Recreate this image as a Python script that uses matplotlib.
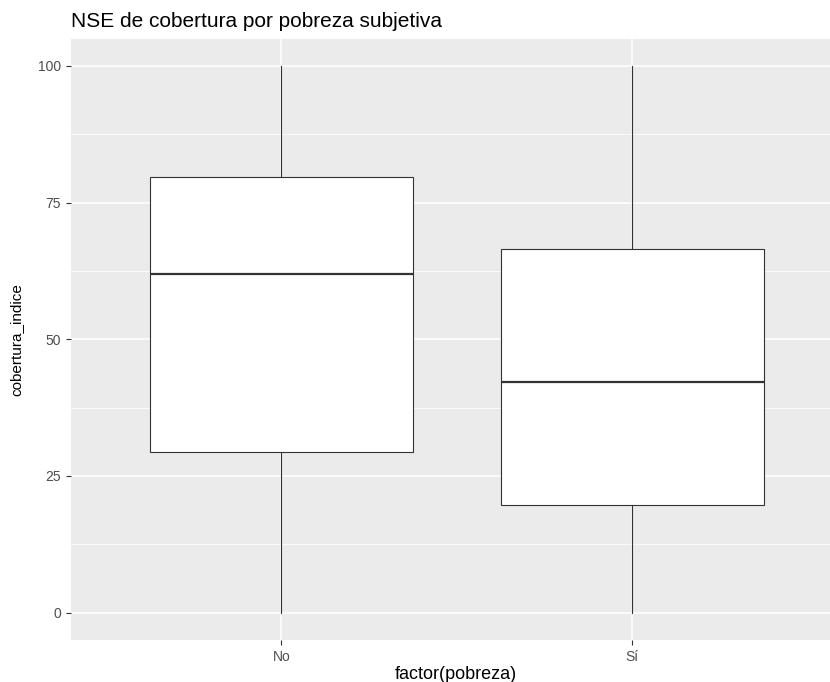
import matplotlib
matplotlib.use("Agg")
import matplotlib.pyplot as plt
from matplotlib.ticker import MultipleLocator

plt.rcParams['font.family'] = ['Liberation Sans', 'DejaVu Sans']

categories = ["No", "Sí"]
whisker_low = [0, 0]
q1 = [29.4, 19.7]
median = [61.9, 42.2]
q3 = [79.7, 66.5]
whisker_high = [100, 100]
y_ticks = [0, 25, 50, 75, 100]

title = "NSE de cobertura por pobreza subjetiva"
xlabel = "factor(pobreza)"
ylabel = "cobertura_indice"

W, H = 830, 682
fig = plt.figure(figsize=(W / 100, H / 100), dpi=100)
ax_left, ax_top, ax_bottom = 70.7, 38.5, 640
ax = fig.add_axes([ax_left / W, (H - ax_bottom) / H, 1 - ax_left / W, (ax_bottom - ax_top) / H])
ax.set_facecolor('#EBEBEB')

stats = []
for i, c in enumerate(categories):
    stats.append(dict(label=c, whislo=whisker_low[i], q1=q1[i], med=median[i],
                      q3=q3[i], whishi=whisker_high[i], fliers=[]))

positions = list(range(1, len(categories) + 1))
edge = '#333333'
ax.bxp(stats, positions=positions, widths=0.75, patch_artist=True, showcaps=False,
       boxprops=dict(facecolor='white', edgecolor=edge, linewidth=0.8),
       whiskerprops=dict(color=edge, linewidth=0.8),
       medianprops=dict(color=edge, linewidth=1.6),
       zorder=3)

ax.set_xlim(0.4, 2.563)
ax.set_ylim(-5, 105)
ax.set_yticks(y_ticks)
ax.yaxis.set_minor_locator(MultipleLocator(12.5))
ax.set_xticks(positions)
ax.set_xticklabels(categories)

ax.grid(which='major', color='white', linewidth=1.1, zorder=0)
ax.grid(which='minor', axis='y', color='white', linewidth=0.55, zorder=0)
ax.set_axisbelow(True)
for s in ax.spines.values():
    s.set_visible(False)

ax.tick_params(axis='both', which='major', length=3.6, width=0.8, color='#333333',
               labelcolor='#4D4D4D', labelsize=10, pad=3.3)
ax.tick_params(axis='both', which='minor', length=0)

ax.set_title(title, loc='left', fontsize=15, color='black', pad=8)
ax.set_xlabel(xlabel, fontsize=13, color='black')
ax.xaxis.label.set_va('baseline')
ax.xaxis.set_label_coords(0.507, -0.0648)
ax.set_ylabel(ylabel, fontsize=11, color='black')
ax.yaxis.label.set_va('center')
ax.yaxis.set_label_coords(-0.072, 0.5)

fig.savefig('out.png', dpi=100)
